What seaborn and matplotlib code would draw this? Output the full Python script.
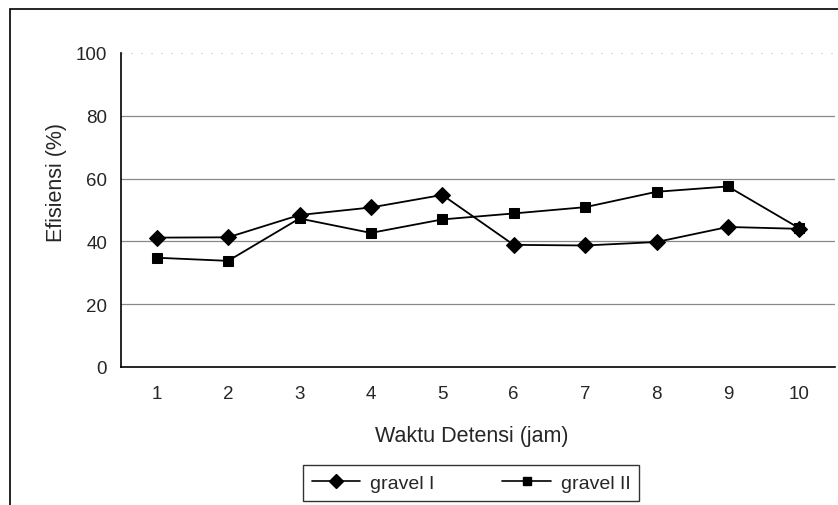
import matplotlib
matplotlib.use("Agg")
import matplotlib.pyplot as plt
import seaborn as sns
import pandas as pd
from matplotlib.patches import Rectangle

waktu = [1, 2, 3, 4, 5, 6, 7, 8, 9, 10]
gravel_1 = [41.2, 41.3, 48.4, 50.8, 54.8, 38.9, 38.7, 39.8, 44.6, 44.0]
gravel_2 = [34.8, 33.8, 47.3, 42.7, 47.0, 48.9, 50.9, 55.8, 57.5, 44.2]
series_names = ["gravel I", "gravel II"]
y_ticks = [0, 20, 40, 60, 80, 100]

df = pd.DataFrame({
    "pos": list(range(len(waktu))) * 2,
    "val": gravel_1 + gravel_2,
    "seri": [series_names[0]] * len(waktu) + [series_names[1]] * len(waktu),
})

sns.set_theme(style="white")
plt.rcParams['font.family'] = ['Liberation Sans', 'DejaVu Sans']

W, H = 838, 506
fig = plt.figure(figsize=(W / 100, H / 100), dpi=100)
fig.patch.set_facecolor("white")

# outer chart border (extends beyond the image on right/bottom)
fig.add_artist(Rectangle((10 / W, -10 / H), 1.0, 1.0,
                         transform=fig.transFigure, fill=False, edgecolor="black",
                         linewidth=1.2))

left, right, top, bottom = 121, 835, 54, 368
ax = fig.add_axes([left / W, 1 - bottom / H, (right - left) / W, (bottom - top) / H])

sns.lineplot(data=df, x="pos", y="val", hue="seri", style="seri",
             palette=["black", "black"], markers={"gravel I": "D", "gravel II": "s"},
             dashes=False, markersize=8, linewidth=1.3, markeredgecolor="black",
             ax=ax, legend=False)
for ln, ms in zip(ax.lines, [8.5, 7.5]):
    ln.set_markersize(ms)

ax.set_xlim(-0.5, len(waktu) - 0.5)
ax.set_ylim(0, 100)

ax.set_yticks(y_ticks)
ax.set_yticklabels([str(v) for v in y_ticks], fontsize=13.5)
ax.set_xticks(range(len(waktu)))
ax.set_xticklabels([str(w) for w in waktu], fontsize=13.5)
ax.tick_params(axis="x", which="major", length=0, pad=13)
ax.set_xticks([i - 0.5 for i in range(len(waktu) + 1)], minor=True)
ax.tick_params(axis="x", which="minor", length=4, direction="out", color="black", width=1)
ax.tick_params(axis="y", which="major", length=4, direction="out", color="black", width=1, pad=6)

for v in [20, 40, 60, 80]:
    ax.axhline(v, color="#888888", linewidth=0.9, zorder=0)
ax.axhline(100, color="#bbbbbb", linewidth=0.8, linestyle=(0, (1, 8)), zorder=0)

for s in ["top", "right"]:
    ax.spines[s].set_visible(False)
for s in ["left", "bottom"]:
    ax.spines[s].set_visible(True)
    ax.spines[s].set_color("black")
    ax.spines[s].set_linewidth(1.2)

ax.set_xlabel("Waktu Detensi (jam)", fontsize=15.5)
ax.set_ylabel("Efisiensi (%)", fontsize=15.5)
ax.xaxis.set_label_coords((472 - left) / (right - left), -(426 - bottom) / (bottom - top))
ax.yaxis.set_label_coords(-(left - 67) / (right - left), (bottom - 183) / (bottom - top))

handles = [
    plt.Line2D([], [], color="black", marker="D", markersize=7, linewidth=1.2),
    plt.Line2D([], [], color="black", marker="s", markersize=6, linewidth=1.2),
]
leg = fig.legend(handles, series_names, loc="center", bbox_to_anchor=(471 / W, 1 - 484 / H),
                 ncol=2, frameon=True, fancybox=False, edgecolor="black",
                 fontsize=14, handlelength=2.5, columnspacing=3.5,
                 borderpad=0.45, handletextpad=0.5)
leg.get_frame().set_linewidth(1.0)

fig.savefig("out.png", dpi=100, facecolor="white")
